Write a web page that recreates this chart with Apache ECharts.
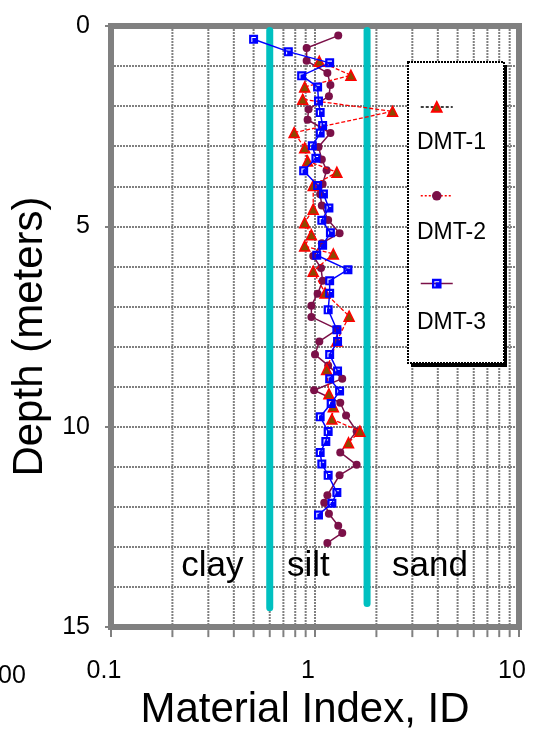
<!DOCTYPE html>
<html><head><meta charset="utf-8">
<script src="https://cdn.jsdelivr.net/npm/echarts@6/dist/echarts.min.js"></script>
<style>html,body{margin:0;padding:0;background:#fff}#c{width:539px;height:736px}</style>
</head><body><div id="c"></div>
<script>
// ---- data ----
const seriesNames = ['DMT-1', 'DMT-2', 'DMT-3'];

const dmt1Depth = [0.88,1.23,1.52,1.83,2.13,2.66,3.04,3.37,3.65,3.98,4.57,4.91,5.21,5.49,5.69,6.12,6.66,7.24,7.86,8.57,9.18,9.50,9.81,10.11,10.40];
const dmt1ID    = [1.05,1.50,0.89,0.87,2.40,0.79,0.89,0.92,1.28,0.98,0.98,0.89,0.96,0.89,1.23,0.98,1.12,1.47,1.28,1.14,1.17,1.23,1.21,1.66,1.46];

const dmt2Depth = [0.24,0.55,0.87,1.17,1.47,1.75,2.08,2.34,2.67,3.02,3.33,3.60,3.94,4.20,4.48,4.84,5.17,5.42,5.74,6.04,6.36,6.68,6.98,7.26,7.57,7.87,8.20,8.47,8.80,9.09,9.40,9.72,10.11,10.64,10.95,11.21,11.71,11.90,12.17,12.47,12.65,12.90];
const dmt2ID    = [1.30,0.91,0.91,1.15,1.19,1.17,0.93,0.92,1.19,1.04,1.08,1.14,1.09,1.06,1.08,1.16,1.32,1.08,0.98,1.07,1.09,1.03,0.96,0.96,1.29,1.05,1.00,1.16,1.36,0.99,1.33,1.42,1.60,1.33,1.60,1.32,1.15,1.11,1.17,1.30,1.36,1.15];

const dmt3Depth = [0.33,0.64,0.92,1.24,1.52,1.87,2.16,2.48,2.67,2.99,3.30,3.61,3.98,4.19,4.54,4.85,5.16,5.47,5.72,6.08,6.36,6.67,7.08,7.58,7.87,8.20,8.61,8.80,9.11,9.42,9.75,10.12,10.37,10.64,10.93,11.21,11.64,11.91,12.20];
const dmt3ID    = [0.50,0.74,1.18,0.86,1.03,1.04,1.06,1.09,1.06,0.97,1.01,0.88,1.03,1.10,1.17,1.08,1.19,1.09,1.02,1.45,1.18,1.18,1.16,1.28,1.29,1.18,1.29,1.18,1.32,1.20,1.06,1.16,1.13,1.06,1.08,1.16,1.28,1.21,1.04];

// soil-type boundaries (ID) and their depth span
const boundaryID     = [0.6, 1.8];
const boundaryTop    = [0.11, 0.11];
const boundaryBottom = [14.52, 14.41];

// zone annotations
const zoneNames = ['clay', 'silt', 'sand'];
const zoneX     = [0.314, 0.927, 3.66];
const zoneDepth = [13.48, 13.48, 13.48];

// axis ticks
const xTickValues = [0.1,0.2,0.3,0.4,0.5,0.6,0.7,0.8,0.9,1,2,3,4,5,6,7,8,9,10];
const depthMin = 0, depthMax = 15, depthStep = 5;

// ---- chart ----
const FONT = '"Liberation Sans", Arial, sans-serif';
const GRAY = '#808080';
const chart = echarts.init(document.getElementById('c'), null, {renderer: 'canvas'});
const squarePath = 'path://M0,0 L10,0 L10,10 L0,10 Z M2.5,8 L3.7,8 L3.7,3.7 L7.5,3.7 L7.5,2.5 L2.5,2.5 Z';

const zip = (xs, ys) => xs.map((v, i) => [v, ys[i]]);

const series = [
  {
    type: 'custom', coordinateSystem: 'cartesian2d', silent: true, z: 1,
    data: xTickValues.map(v => [v, depthMin]),
    renderItem: (params, api) => {
      const v = api.value(0);
      const top = api.coord([v, depthMin]);
      const bot = api.coord([v, depthMax]);
      const children = [{type: 'line', shape: {x1: bot[0], y1: bot[1] + 3, x2: bot[0], y2: bot[1] + 10}, style: {stroke: GRAY, lineWidth: 2}}];
      if (v > 0.1 && v < 10 && v !== 1) {
        children.push({type: 'line', shape: {x1: top[0], y1: top[1], x2: bot[0], y2: bot[1]}, style: {stroke: GRAY, lineWidth: 2, lineDash: [2, 1]}});
      }
      return {type: 'group', children};
    }
  }
];

boundaryID.forEach((b, i) => {
  series.push({
    type: 'line', silent: true, z: 2, symbol: 'none',
    data: [[b, boundaryTop[i]], [b, boundaryBottom[i]]],
    lineStyle: {color: '#00C0C0', width: 7, cap: 'round'}
  });
});

series.push({
  type: 'scatter', silent: true, z: 2, symbolSize: 1, itemStyle: {color: 'rgba(0,0,0,0)'},
  data: zoneNames.map((n, i) => ({name: n, value: [zoneX[i], zoneDepth[i]]})),
  label: {show: true, position: 'inside', formatter: p => p.name, fontSize: 35, fontFamily: FONT,
    color: '#000000', textBorderWidth: 0, textBorderColor: 'transparent', opacity: 1}
});

series.push({
  name: seriesNames[0], type: 'line', z: 4, data: zip(dmt1ID, dmt1Depth),
  symbol: 'triangle', symbolSize: 10, showAllSymbol: true,
  itemStyle: {color: '#8A4A00', borderColor: '#FF0000', borderWidth: 1.5},
  lineStyle: {color: '#FF0000', width: 1.3, type: [4, 2]}
});
series.push({
  name: seriesNames[1], type: 'line', z: 3, data: zip(dmt2ID, dmt2Depth),
  symbol: 'circle', symbolSize: 8, showAllSymbol: true,
  itemStyle: {color: '#7B1048', borderColor: '#7B1048', borderWidth: 0},
  lineStyle: {color: '#7B1048', width: 1.5}
});
series.push({
  name: seriesNames[2], type: 'line', z: 5, data: zip(dmt3ID, dmt3Depth),
  symbol: squarePath, symbolSize: 9, showAllSymbol: true,
  itemStyle: {color: '#0000FF', borderWidth: 0},
  lineStyle: {color: '#0000FF', width: 1.5}
});

const legendLine = [
  {color: '#000000', type: [3, 2], width: 1.5},
  {color: '#FF0000', type: [2, 2], width: 1.5},
  {color: '#7B1048', type: 'solid', width: 1.5}
];

const option = {
  animation: false,
  backgroundColor: '#fff',
  grid: {left: 111, right: 20, top: 26, bottom: 105, show: true, borderColor: GRAY, borderWidth: 6, backgroundColor: 'transparent'},
  xAxis: {
    type: 'log', logBase: 10, min: 0.1, max: 10,
    axisLine: {show: false}, axisTick: {show: false},
    splitLine: {show: true, lineStyle: {color: GRAY, width: 2, type: [2, 1]}},
    axisLabel: {fontSize: 25, fontFamily: FONT, color: '#000', margin: 32, padding: [0, 14, 0, 0],
      formatter: v => String(+(+v).toPrecision(3))},
    name: 'Material Index, ID', nameLocation: 'middle', nameGap: 60,
    nameTextStyle: {fontSize: 42, fontFamily: FONT, color: '#000', padding: [0, 20, 0, 0]}
  },
  yAxis: {
    type: 'value', inverse: true, min: depthMin, max: depthMax, interval: depthStep,
    axisLine: {show: false},
    axisTick: {show: true, length: 6, lineStyle: {color: GRAY, width: 2}},
    splitLine: {show: true, lineStyle: {color: GRAY, width: 2, type: [2, 1]}},
    minorTick: {show: false, splitNumber: 5},
    minorSplitLine: {show: true, lineStyle: {color: GRAY, width: 2, type: [2, 1]}},
    axisLabel: {fontSize: 25, fontFamily: FONT, color: '#000', margin: 21},
    name: 'Depth (meters)', nameLocation: 'middle', nameRotate: 90, nameGap: 59,
    nameTextStyle: {fontSize: 42, fontFamily: FONT, color: '#000', padding: [0, 20, 0, 0]}
  },
  legend: {
    orient: 'vertical', left: 415, top: 96, itemWidth: 32, itemHeight: 12, itemGap: 77,
    selectedMode: false, z: 10, formatter: () => '', textStyle: {fontSize: 1},
    data: seriesNames.map((n, i) => ({name: n, lineStyle: legendLine[i]}))
  },
  graphic: [
    {type: 'rect', silent: true, z: 5, shape: {x: 411, y: 65, width: 96, height: 302}, style: {fill: '#000'}},
    {type: 'rect', silent: true, z: 6, shape: {x: 408, y: 62, width: 96, height: 301}, style: {fill: '#fff', stroke: '#000', lineWidth: 2, lineDash: [2, 1]}},
    ...seriesNames.map((n, i) => ({type: 'text', silent: true, z: 8, left: 417, top: [131, 221, 311][i],
      style: {text: n, font: '23px ' + FONT, fill: '#000'}})),
    {type: 'text', silent: true, z: 8, left: -2, top: 664, style: {text: '00', font: '25px ' + FONT, fill: '#000'}}
  ],
  series
};
chart.setOption(option);
</script></body></html>
